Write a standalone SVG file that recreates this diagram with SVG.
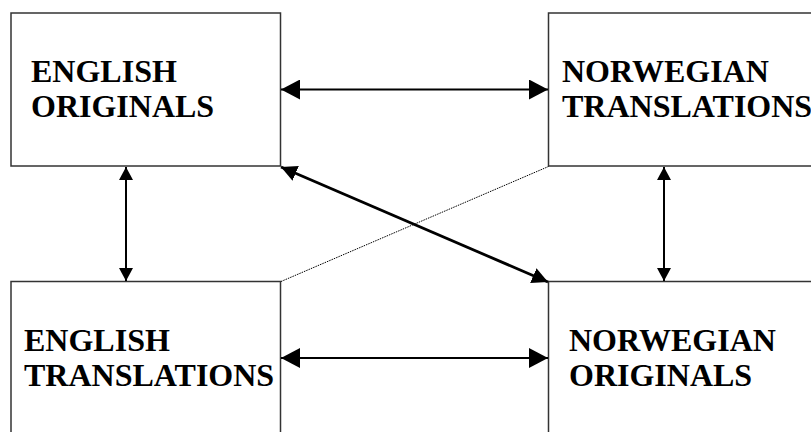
<svg xmlns="http://www.w3.org/2000/svg" width="811" height="432" viewBox="0 0 811 432">
<style>
.box{fill:#fff;stroke:#333;stroke-width:1.5}
.t{font-family:"Liberation Serif","Times New Roman",serif;font-weight:bold;font-size:32px;fill:#000}
.conn{stroke:#000;fill:none}
</style>
<defs>
<marker id="ah" viewBox="0 0 19 20" refX="19" refY="10" markerWidth="19" markerHeight="20" markerUnits="userSpaceOnUse" orient="auto-start-reverse"><path d="M0,0 L19,10 L0,20 Z" fill="#000"/></marker>
<marker id="av" viewBox="0 0 13 14" refX="13" refY="7" markerWidth="13" markerHeight="14" markerUnits="userSpaceOnUse" orient="auto-start-reverse"><path d="M0,0 L13,7 L0,14 Z" fill="#000"/></marker>
<marker id="ad" viewBox="0 0 16 16" refX="16" refY="8" markerWidth="16" markerHeight="16" markerUnits="userSpaceOnUse" orient="auto-start-reverse"><path d="M0,0 L16,8 L0,16 Z" fill="#000"/></marker>
</defs>
<rect width="811" height="432" fill="#fff"/>
<g id="english-originals">
<rect class="box" x="11" y="13" width="269.5" height="153"/>
<text class="t" x="31" y="82">ENGLISH</text>
<text class="t" x="31" y="117">ORIGINALS</text>
</g>
<g id="norwegian-translations">
<rect class="box" x="548.5" y="13" width="280" height="153"/>
<text class="t" x="562" y="82">NORWEGIAN</text>
<text class="t" x="562" y="117">TRANSLATIONS</text>
</g>
<g id="english-translations">
<rect class="box" x="11" y="281.5" width="269.5" height="170"/>
<text class="t" x="24" y="351">ENGLISH</text>
<text class="t" x="24" y="386">TRANSLATIONS</text>
</g>
<g id="norwegian-originals">
<rect class="box" x="548.5" y="281.5" width="280" height="170"/>
<text class="t" x="569" y="351">NORWEGIAN</text>
<text class="t" x="569" y="386">ORIGINALS</text>
</g>
<g id="connectors">
<line class="conn" x1="281" y1="89.5" x2="548" y2="89.5" stroke-width="2" marker-start="url(#ah)" marker-end="url(#ah)"/>
<line class="conn" x1="281" y1="358" x2="548" y2="358" stroke-width="2" marker-start="url(#ah)" marker-end="url(#ah)"/>
<line class="conn" x1="126" y1="167" x2="126" y2="281" stroke-width="2" marker-start="url(#av)" marker-end="url(#av)"/>
<line class="conn" x1="664" y1="167" x2="664" y2="281" stroke-width="2" marker-start="url(#av)" marker-end="url(#av)"/>
<line class="conn" x1="281" y1="167" x2="548" y2="282" stroke-width="2.8" marker-start="url(#ad)" marker-end="url(#ad)"/>
<line class="conn" x1="281" y1="281.5" x2="548.5" y2="166.5" stroke="#555" stroke-width="1" stroke-dasharray="1.5,1"/>
</g>
</svg>
